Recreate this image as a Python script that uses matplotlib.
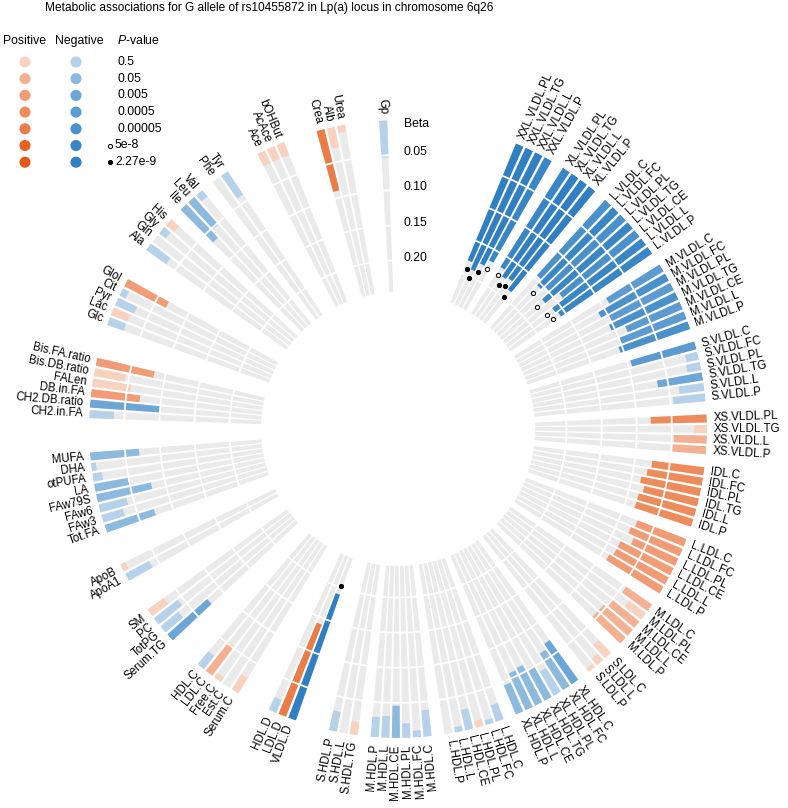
import numpy as np
import matplotlib
matplotlib.use("Agg")
import matplotlib.pyplot as plt

plt.rcParams['font.family'] = ['Liberation Sans', 'DejaVu Sans']
plt.rcParams['mathtext.fontset'] = 'custom'
plt.rcParams['mathtext.it'] = 'Liberation Sans:italic'
plt.rcParams['mathtext.rm'] = 'Liberation Sans'

# ---- data ---------------------------------------------------------------
group_sizes = [4, 4, 7, 7, 6, 4, 6, 6, 5, 3, 7, 6, 6, 3, 3, 5, 4, 2, 8, 6, 5, 4, 3, 2, 3, 3, 1]
# extra empty slots placed before each group
group_gaps = [0, 1, 1, 1, 1, 1, 1, 1, 1, 1, 1, 1, 1, 1, 3, 3, 3, 3, 3, 3, 3, 3, 1, 1, 3, 3, 3]

names = [
    "XXL.VLDL.PL", "XXL.VLDL.TG", "XXL.VLDL.L", "XXL.VLDL.P",
    "XL.VLDL.PL", "XL.VLDL.TG", "XL.VLDL.L", "XL.VLDL.P",
    "L.VLDL.C", "L.VLDL.FC", "L.VLDL.PL", "L.VLDL.TG", "L.VLDL.CE", "L.VLDL.L", "L.VLDL.P",
    "M.VLDL.C", "M.VLDL.FC", "M.VLDL.PL", "M.VLDL.TG", "M.VLDL.CE", "M.VLDL.L", "M.VLDL.P",
    "S.VLDL.C", "S.VLDL.FC", "S.VLDL.PL", "S.VLDL.TG", "S.VLDL.L", "S.VLDL.P",
    "XS.VLDL.PL", "XS.VLDL.TG", "XS.VLDL.L", "XS.VLDL.P",
    "IDL.C", "IDL.FC", "IDL.PL", "IDL.TG", "IDL.L", "IDL.P",
    "L.LDL.C", "L.LDL.FC", "L.LDL.PL", "L.LDL.CE", "L.LDL.L", "L.LDL.P",
    "M.LDL.C", "M.LDL.PL", "M.LDL.CE", "M.LDL.L", "M.LDL.P",
    "S.LDL.C", "S.LDL.L", "S.LDL.P",
    "XL.HDL.C", "XL.HDL.FC", "XL.HDL.PL", "XL.HDL.TG", "XL.HDL.CE", "XL.HDL.L", "XL.HDL.P",
    "L.HDL.C", "L.HDL.FC", "L.HDL.PL", "L.HDL.CE", "L.HDL.L", "L.HDL.P",
    "M.HDL.C", "M.HDL.FC", "M.HDL.PL", "M.HDL.CE", "M.HDL.L", "M.HDL.P",
    "S.HDL.TG", "S.HDL.L", "S.HDL.P",
    "VLDL.D", "LDL.D", "HDL.D",
    "Serum.C", "Est.C", "Free.C", "LDL.C", "HDL.C",
    "Serum.TG", "TotPG", "PC", "SM",
    "ApoA1", "ApoB",
    "Tot.FA", "FAw3", "FAw6", "FAw79S", "LA", "otPUFA", "DHA", "MUFA",
    "CH2.in.FA", "CH2.DB.ratio", "DB.in.FA", "FALen", "Bis.DB.ratio", "Bis.FA.ratio",
    "Glc", "Lac", "Pyr", "Cit", "Glol",
    "Ala", "Gln", "Gly", "His",
    "Ile", "Leu", "Val",
    "Phe", "Tyr",
    "Ace", "AcAce", "bOHBut",
    "Crea", "Alb", "Urea",
    "Gp",
]

# signed beta (positive = orange, negative = blue)
beta = [
    -0.180, -0.190, -0.177, -0.167,
    -0.167, -0.177, -0.174, -0.187,
    -0.145, -0.155, -0.150, -0.164, -0.140, -0.161, -0.158,
    -0.090, -0.110, -0.100, -0.105, -0.085, -0.100, -0.105,
    -0.095, -0.018, -0.020, -0.065, -0.036, -0.046,
    0.080, 0.018, 0.047, 0.048,
    0.075, 0.080, 0.087, 0.080, 0.085, 0.085,
    0.075, 0.080, 0.070, 0.085, 0.085, 0.090,
    0.045, 0.030, 0.050, 0.055, 0.055,
    0.025, 0.012, 0.006,
    -0.070, -0.062, -0.040, -0.050, -0.060, -0.058, -0.045,
    -0.025, -0.007, 0.010, -0.030, -0.008, 0.0,
    -0.038, -0.010, -0.021, -0.046, -0.031, -0.029,
    0.019, 0.0, -0.029,
    -0.190, 0.141, -0.020,
    0.026, 0.0, 0.008, 0.052, -0.024,
    -0.076, -0.033, -0.043, 0.029,
    -0.039, 0.008,
    -0.074, -0.032, -0.041, -0.080, -0.050, -0.014, -0.007, -0.070,
    -0.035, -0.100, 0.070, 0.055, 0.045, 0.084,
    -0.025, 0.025, -0.030, -0.010, 0.067,
    -0.035, 0.0, -0.012, 0.015,
    -0.066, -0.052, -0.012,
    0.0, -0.040,
    0.020, 0.020, 0.020,
    0.090, 0.030, 0.010,
    -0.053,
]

# p-value class: 0=0.5 1=0.05 2=0.005 3=0.0005 4=0.00005 5=5e-8 6=2.27e-9
plevel = [
    6, 6, 6, 5,
    5, 6, 6, 6,
    4, 5, 4, 5, 4, 5, 5,
    3, 4, 3, 4, 3, 3, 4,
    3, 0, 0, 2, 0, 0,
    3, 0, 1, 1,
    3, 3, 3, 3, 3, 3,
    2, 2, 2, 2, 2, 2,
    1, 0, 1, 1, 1,
    0, 0, 0,
    2, 1, 0, 1, 1, 1, 1,
    0, 0, 0, 0, 0, 0,
    0, 0, 0, 1, 0, 0,
    0, 0, 0,
    6, 4, 0,
    0, 0, 0, 1, 0,
    2, 0, 0, 0,
    0, 0,
    1, 0, 0, 1, 1, 0, 0, 1,
    0, 2, 2, 0, 0, 2,
    0, 0, 0, 0, 2,
    0, 0, 0, 0,
    1, 1, 0,
    0, 0,
    0, 0, 0,
    4, 0, 0,
    0,
]

p_labels = ["0.5", "0.05", "0.005", "0.0005", "0.00005", "5e-8", "2.27e-9"]
pos_colors = ["#f8d2bf", "#f4b192", "#f19c74", "#ee8b5b", "#eb7c45", "#e6611d", "#e4591a"]
neg_colors = ["#b6d2ea", "#8cbadf", "#6ca6d6", "#5b9bd1", "#4a91cc", "#3886c6", "#2f7fc2"]
beta_ticks = [0.05, 0.10, 0.15, 0.20]

# ---- layout ---------------------------------------------------------------
R_OUT = 0.44          # outer radius in beta units
TRACK = 0.245         # length of the grey track
START = 23.2          # angle (deg, clockwise from north) of first metabolite
SLOT = 1.965          # degrees per slot
TRACK_COL = "#eaeaea"
FS = 8.3
LFS = 8.8

# angular position of each metabolite
slots = []
pos = 0
for size, gap in zip(group_sizes, group_gaps):
    pos += gap
    for k in range(size):
        slots.append(pos)
        pos += 1
theta_deg = START + SLOT * np.array(slots)
theta = np.deg2rad(theta_deg)
width = np.deg2rad(SLOT * 0.76)

fig = plt.figure(figsize=(7.88, 8.08), dpi=100)

# overlay for title and legend, in pixel coordinates
lax = fig.add_axes([0, 0, 1, 1])
lax.set_xlim(0, 788)
lax.set_ylim(808, 0)
lax.axis("off")

lax.text(45, 8, "Metabolic associations for G allele of rs10455872 in Lp(a) locus in chromosome 6q26",
         fontsize=8.6, va="center", ha="left")
lax.text(3, 41, "Positive", fontsize=LFS, va="center")
lax.text(55, 41, "Negative", fontsize=LFS, va="center")
lax.text(117, 41, r"$\it{P}$-value", fontsize=LFS, va="center")
for k, lab in enumerate(p_labels):
    y = 62 + k * 16.7
    lax.scatter([25], [y], s=64, color=pos_colors[k], edgecolors="none")
    lax.scatter([76], [y], s=64, color=neg_colors[k], edgecolors="none")
    tx = 118
    if k == 5:
        lax.plot([110], [y], "o", ms=3, mfc="white", mec="black", mew=0.7)
        tx = 115
    elif k == 6:
        lax.plot([110], [y], "o", ms=3, mfc="black", mec="black", mew=0.7)
        tx = 115
    lax.text(tx, y, lab, fontsize=LFS, va="center")

ax = fig.add_axes([89 / 788, 70 / 808, 618 / 788, 618 / 808], projection="polar")
ax.set_theta_zero_location("N")
ax.set_theta_direction(-1)
ax.set_ylim(0, R_OUT)
ax.axis("off")

# grey tracks
ax.bar(theta, TRACK, width=width, bottom=R_OUT - TRACK, color=TRACK_COL, linewidth=0)

# coloured bars
b = np.array(beta)
lv = np.array(plevel)
mag = np.abs(b)
cols = [pos_colors[l] if v > 0 else neg_colors[l] for v, l in zip(b, lv)]
has = mag > 0
ax.bar(theta[has], mag[has], width=width, bottom=R_OUT - mag[has],
       color=np.array(cols)[has], linewidth=0)

# white tick separators
full = np.linspace(0, 2 * np.pi, 1440)
for t in beta_ticks:
    ax.plot(full, np.full_like(full, R_OUT - t), color="white", lw=1.3)

# p-value markers
for th, m, l in zip(theta, mag, lv):
    if l == 5:
        ax.plot([th], [R_OUT - m - 0.012], "o", ms=3, mfc="white", mec="black", mew=0.7)
    elif l == 6:
        ax.plot([th], [R_OUT - m - 0.012], "o", ms=3, mfc="black", mec="black", mew=0.7)

# labels
flip = 172.0
for th, td, name in zip(theta, theta_deg, names):
    if td < flip:
        rot, ha = 90 - td, "left"
    else:
        rot, ha = 270 - td, "right"
    ax.text(th, R_OUT + 0.009, name, rotation=rot, ha=ha, va="center",
            rotation_mode="anchor", fontsize=FS)

# beta scale
ax.annotate("Beta", xy=(0, R_OUT - 0.006), xytext=(4, 0), textcoords="offset points",
            ha="left", va="center", fontsize=LFS)
for t in beta_ticks:
    ax.annotate(f"{t:.2f}", xy=(0, R_OUT - t), xytext=(4, 2), textcoords="offset points",
                ha="left", va="center", fontsize=LFS)

fig.savefig("out.png", dpi=100)
